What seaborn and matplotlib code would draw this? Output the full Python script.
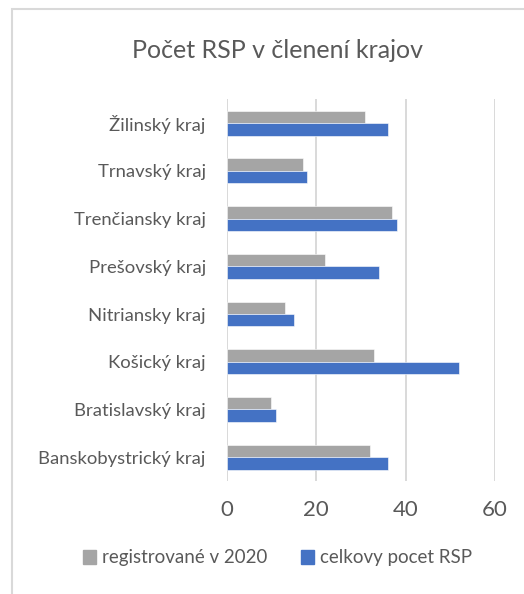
import seaborn as sns
import matplotlib.pyplot as plt
import pandas as pd
from matplotlib.patches import Rectangle

# Data
kraje = ["Žilinský kraj", "Trnavský kraj", "Trenčiansky kraj", "Prešovský kraj",
         "Nitriansky kraj", "Košický kraj", "Bratislavský kraj", "Banskobystrický kraj"]
registrovane_2020 = [31, 17, 37, 22, 13, 33, 10, 32]
celkovy_pocet = [36, 18, 38, 34, 15, 52, 11, 36]
serie = ["registrované v 2020", "celkovy pocet RSP"]
farby = ["#A5A5A5", "#4472C4"]
x_ticks = [0, 20, 40, 60]

df = pd.DataFrame({
    "kraj": kraje * 2,
    "pocet": registrovane_2020 + celkovy_pocet,
    "seria": [serie[0]] * len(kraje) + [serie[1]] * len(kraje),
})

sns.set_style("white")
plt.rcParams['font.family'] = ['Lato', 'DejaVu Sans']
text_color = "#595959"
grid_color = "#D9D9D9"

fig = plt.figure(figsize=(5.24, 5.94), dpi=100)
ax = fig.add_axes([0.4326, 0.1902, 0.5121, 0.6426])

sns.barplot(
    data=df, y="kraj", x="pocet", hue="seria", order=kraje, hue_order=serie,
    palette=farby, orient="h", width=0.52, ax=ax, legend=False,
    edgecolor="white", linewidth=0.4, saturation=1,
)

ax.set_xlim(0, 60)
ax.set_xticks(x_ticks)
ax.set_xlabel("")
ax.set_ylabel("")
ax.grid(axis="x", color=grid_color, linewidth=1.4)
ax.set_axisbelow(True)
for s in ax.spines.values():
    s.set_visible(False)
ax.tick_params(axis="x", length=0, pad=14, labelsize=16, labelcolor=text_color)
ax.tick_params(axis="y", length=0, pad=15, labelsize=13.3, labelcolor=text_color)

fig.text(0.5296, 1 - 50 / 594, "Počet RSP v členení krajov", ha="center", va="center",
         fontsize=18, color=text_color)

handles = [Rectangle((0, 0), 1, 1, color=c) for c in farby]
fig.legend(handles, serie, loc="center", bbox_to_anchor=(0.5296, 1 - 558 / 594),
           ncol=2, frameon=False, fontsize=13.5, labelcolor=text_color,
           handlelength=0.7, handleheight=0.7, handletextpad=0.3, columnspacing=1.8)

# chart border
fig.add_artist(Rectangle((12 / 524, -0.1), 1.2, 1 - 9 / 594 + 0.1, transform=fig.transFigure,
                         fill=False, edgecolor=grid_color, linewidth=1.5))

plt.savefig("out.png", dpi=100)
